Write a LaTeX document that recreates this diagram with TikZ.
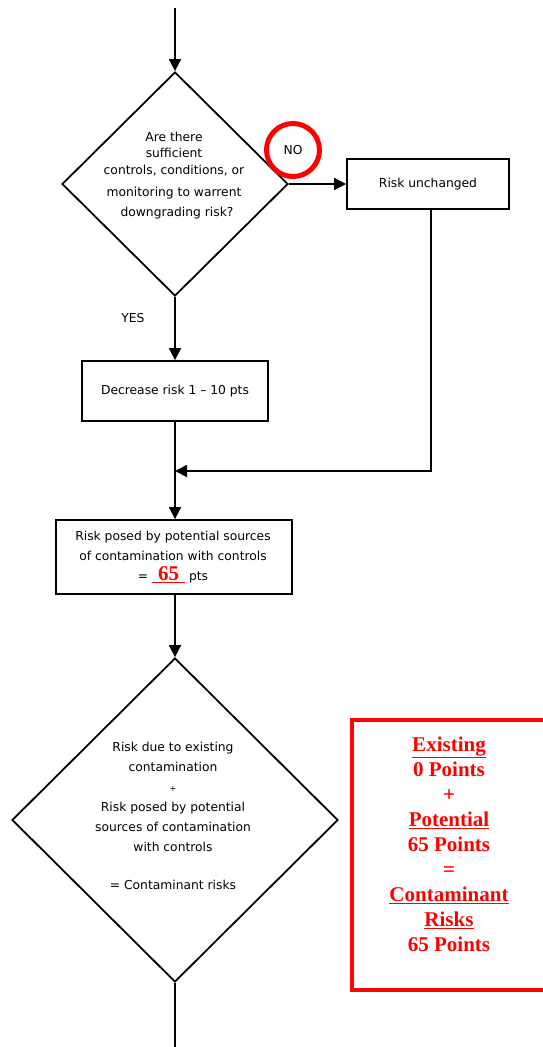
\documentclass[tikz,border=0pt]{standalone}
\usepackage{fontspec}
\setmainfont{DejaVu Sans}
\newfontfamily\redserif{Liberation Serif}
\usetikzlibrary{shapes.geometric,arrows.meta}
\definecolor{redline}{RGB}{255,0,0}
\begin{document}
\begin{tikzpicture}[x=1pt,y=-1pt,line width=1.8pt,
  arr/.style={-{Triangle[length=12pt,width=12pt]}},
  txt/.style={font=\fontsize{12.3}{20}\selectfont,align=center,inner sep=0pt},
  boxnode/.style={draw,rectangle,inner sep=0pt,font=\fontsize{12.3}{20}\selectfont,align=center},
  dia/.style={draw,diamond,inner sep=0pt},
  redtxt/.style={text=redline,font=\redserif\bfseries\fontsize{21}{25}\selectfont,align=center,inner sep=0pt}]
\useasboundingbox (0,0) rectangle (542,1047);

\coordinate (start) at (175,8);
\node[dia,minimum width=226pt,minimum height=224pt] (q1) at (175,184) {};
\node[txt] (q1t) at (174,176) {Are there\\[-4pt]sufficient\\[-3pt]controls, conditions, or\\[2pt]monitoring to warrent\\\hspace*{6pt}downgrading risk?};
\node[draw=redline,circle,line width=5pt,minimum size=53pt,inner sep=0pt,font=\fontsize{12.3}{14}\selectfont] (no) at (293,150) {NO};
\node[boxnode,minimum width=162pt,minimum height=50pt] (unch) at (428,184) {Risk unchanged};
\node[txt] (yes) at (133,318) {YES};
\node[boxnode,minimum width=186pt,minimum height=60pt] (dec) at (175,391) {Decrease risk 1 -- 10 pts};
\node[boxnode,minimum width=236pt,minimum height=74pt] (pot) at (174,557) {};
\node[txt] (pott) at (173,557) {Risk posed by potential sources\\of contamination with controls\\= \textcolor{redline}{\underline{\makebox[33pt]{\redserif\bfseries\fontsize{21}{20}\selectfont 65}}}\ pts};
\node[dia,minimum width=326pt,minimum height=324pt] (q2) at (175,820) {};
\node[txt] (q2t) at (173,816) {Risk due to existing\\contamination\\{\fontsize{8}{10}\selectfont +}\\Risk posed by potential\\sources of contamination\\with controls\\[18pt]= Contaminant risks};
\coordinate (end) at (175,1047);
\coordinate (corner) at (431,471);
\coordinate (join) at (175,471);

\node[draw=redline,line width=4pt,rectangle,minimum width=194pt,minimum height=270pt,inner sep=0pt] (rbox) at (449,855) {};
\node[redtxt] (rboxt) at (449,844) {\underline{Existing}\\0 Points\\+\\\underline{Potential}\\65 Points\\=\\\underline{Contaminant}\\\underline{Risks}\\65 Points};

\draw[arr] (start) -- (q1.north);
\draw[arr] (q1.east) -- (unch.west);
\draw[arr] (q1.south) -- (dec.north);
\draw[arr] (dec.south) -- (dec.south |- pot.north);
\draw[arr] (unch.south -| corner) -- (corner) -- (join);
\draw[arr] (pot.south -| q2.north) -- (q2.north);
\draw (q2.south) -- (end);
\end{tikzpicture}
\end{document}
